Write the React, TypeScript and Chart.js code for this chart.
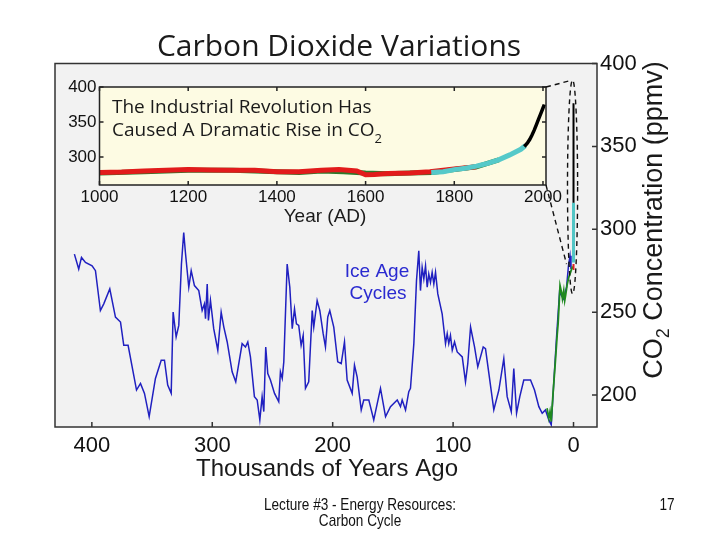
import React, { useEffect, useRef } from "react";
import { Chart, registerables } from "chart.js";

Chart.register(...registerables);

const W = 720;
const H = 540;
const ARIAL = "'Liberation Sans', Arial, Helvetica, sans-serif";
const SANS = "'Open Sans', 'Noto Sans', sans-serif";

// ---------- main chart: thousands of years ago vs CO2 (ppmv) ----------
const vostokAge = [
  414.5, 410.9, 408.6, 405.3, 399.8, 397.0, 392.9, 390.1, 385.1, 380.4, 376.2, 373.5, 369.9,
  362.9, 359.6, 356.3, 352.4, 347.2, 342.4, 339.7, 337.0, 334.1, 332.5, 330.0, 327.8, 325.6,
  323.7, 322.3, 319.5, 317.5, 314.8, 311.2, 308.4, 306.5, 305.6, 304.2, 303.2, 301.5, 298.8,
  295.4, 292.6, 290.4, 287.6, 283.5, 280.5, 275.2, 272.4, 270.5, 268.3, 265.0, 262.7, 260.5,
  258.6, 257.2, 255.6, 253.9, 251.7, 248.3, 244.8, 243.4, 241.9, 240.6, 237.8, 235.6, 233.6,
  231.7, 230.1, 228.2, 226.2, 224.5, 222.6, 219.9, 217.0, 215.7, 212.9, 210.7, 207.9, 206.0,
  204.1, 202.4, 199.1, 195.8, 192.9, 190.2, 188.0, 183.8, 181.9, 179.7, 176.3, 174.2, 170.0,
  165.9, 160.3, 156.1, 152.0, 146.4, 143.7, 142.3, 139.5, 136.8, 135.4, 132.6, 130.4, 128.5,
  127.1, 125.7, 124.3, 122.9, 121.5, 120.2, 118.8, 117.4, 116.0, 114.6, 112.7, 109.1, 106.3,
  104.9, 103.6, 102.2, 100.7, 98.8, 96.6, 92.4, 89.7, 87.8, 85.5, 82.2, 79.5, 75.0, 73.1, 70.3,
  66.2, 62.0, 57.9, 55.1, 51.7, 49.6, 47.3, 44.6, 41.3, 35.7, 32.4, 28.8, 26.0, 23.3, 20.5,
  18.5, 16.6, 14.1, 11.6, 8.3, 5.8, 4.2, 2.9, 2.1,
];
const vostokCO2 = [
  285, 276, 283, 280, 278, 275, 251, 255, 264, 247, 244, 230, 230,
  203, 207, 201, 187, 210, 221, 221, 206, 201, 250, 235, 242, 279,
  298, 286, 265, 275, 266, 263, 251, 255, 246, 267, 245, 257, 240,
  227, 250, 241, 232, 214, 208, 231, 229, 232, 223, 199, 197, 185,
  199, 190, 229, 213, 209, 201, 196, 214, 210, 220, 279, 265, 240,
  252, 243, 242, 230, 236, 204, 208, 251, 241, 257, 251, 237, 229,
  247, 251, 241, 220, 219, 232, 209, 201, 218, 211, 191, 197, 197,
  185, 204, 187, 193, 197, 193, 197, 191, 202, 204, 231, 269, 287,
  263, 277, 270, 278, 265, 273, 268, 274, 267, 274, 261, 249, 231,
  237, 231, 236, 227, 232, 226, 223, 208, 219, 241, 229, 217, 229, 228, 213,
  191, 203, 222, 199, 190, 216, 189, 199, 209, 209, 203, 193, 189, 191, 185,
  182, 205, 235, 262, 258, 265, 278, 284, 276,
];
const domeAge = [22.0, 20.5, 19.5, 18.5, 17.0, 15.0, 13.5, 12.8, 11.2, 10.0, 9.2, 8.1, 7.3, 6.6, 5.2, 3.9, 2.5, 1.1, 0.2];
const domeCO2 = [192, 186, 190, 184, 201, 221, 237, 243, 266, 262, 258, 263, 257, 260, 267, 271, 274, 277, 276];
const lawAge = [0.4, 0.0];
const lawCO2 = [276, 279];
const cyanAge = [0.0, 0.0];
const cyanCO2 = [280, 316];
const maunaAge = [0.0, 0.0];
const maunaCO2 = [316, 376];

const mainXTicks = [400, 300, 200, 100, 0];
const mainYTicks = [200, 250, 300, 350, 400];

// ---------- inset: year AD vs CO2 ----------
const redYears = [1000, 1050, 1100, 1150, 1200, 1250, 1300, 1350, 1400, 1450, 1500, 1540, 1580, 1600, 1620, 1650, 1700, 1745, 1800, 1850];
const redCO2 = [278, 278.5, 280, 281, 282, 281.5, 281, 281, 279, 279, 281, 282, 280, 274.5, 275, 276.5, 277, 279, 283, 286];
const greenYears = [1000, 1100, 1200, 1300, 1400, 1450, 1500, 1550, 1600, 1650, 1700, 1750, 1800, 1850, 1900];
const greenCO2 = [277, 279, 281, 281, 279, 278, 280, 279, 277, 276, 277, 278, 282, 286, 296];
const cyanYears = [1748, 1775, 1800, 1825, 1850, 1875, 1900, 1925, 1950, 1960];
const cyanInsetCO2 = [278, 279, 282, 284, 287, 291, 296, 303, 311, 316];
const blackYears = [1958, 1965, 1970, 1975, 1980, 1985, 1990, 1995, 2000, 2003];
const blackCO2 = [315, 320, 325, 331, 338, 346, 354, 362, 370, 375];

const insetXTicks = [1000, 1200, 1400, 1600, 1800, 2000];
const insetYTicks = [300, 350, 400];

const xy = (xs: number[], ys: number[]) => xs.map((x, i) => ({ x, y: ys[i] }));

const line = (data: any, color: string, width: number) => ({
  data,
  borderColor: color,
  borderWidth: width,
  pointRadius: 0,
  tension: 0,
  fill: false,
});

function drawSub(ctx: CanvasRenderingContext2D, main: string, sub: string, x: number, y: number, big: string, small: string, drop: number) {
  ctx.font = big;
  ctx.fillText(main, x, y);
  const w = ctx.measureText(main).width;
  ctx.font = small;
  ctx.fillText(sub, x + w, y + drop);
}

function narrowText(ctx: CanvasRenderingContext2D, text: string, x: number, y: number) {
  ctx.save();
  ctx.translate(x, y);
  ctx.scale(0.8, 1);
  ctx.fillText(text, 0, 0);
  ctx.restore();
}

const mainDeco = {
  id: "mainDeco",
  beforeDraw(chart: any) {
    const { ctx, chartArea: a } = chart;
    ctx.save();
    ctx.fillStyle = "#ffffff";
    ctx.fillRect(0, 0, W, H);
    ctx.fillStyle = "#f2f2f2";
    ctx.fillRect(a.left, a.top, a.right - a.left, a.bottom - a.top);
    ctx.restore();
  },
  afterDraw(chart: any) {
    const { ctx, chartArea: a, scales } = chart;
    ctx.save();
    // frame
    ctx.strokeStyle = "#333";
    ctx.lineWidth = 1.5;
    ctx.strokeRect(a.left, a.top, a.right - a.left, a.bottom - a.top);
    // inside ticks
    ctx.beginPath();
    mainXTicks.forEach((v) => {
      const px = scales.x.getPixelForValue(v);
      ctx.moveTo(px, a.bottom);
      ctx.lineTo(px, a.bottom - 5);
    });
    mainYTicks.forEach((v) => {
      const py = scales.y.getPixelForValue(v);
      ctx.moveTo(a.right, py);
      ctx.lineTo(a.right - 5, py);
    });
    ctx.stroke();

    ctx.fillStyle = "#1a1a1a";
    ctx.textBaseline = "alphabetic";
    ctx.textAlign = "center";
    ctx.font = `30px ${SANS}`;
    ctx.fillText("Carbon Dioxide Variations", 339, 56);
    ctx.font = `24px ${ARIAL}`;
    ctx.fillText("Thousands of Years Ago", 327, 476);

    // rotated y title with subscript
    ctx.save();
    ctx.translate(662, 220);
    ctx.rotate(-Math.PI / 2);
    const big = `27px ${ARIAL}`;
    const small = `18px ${ARIAL}`;
    ctx.font = big;
    const wa = ctx.measureText("CO").width;
    const wb = ctx.measureText(" Concentration (ppmv)").width;
    ctx.font = small;
    const ws = ctx.measureText("2").width;
    const x0 = -(wa + ws + wb) / 2;
    ctx.textAlign = "left";
    drawSub(ctx, "CO", "2", x0, 0, big, small, 7);
    ctx.font = big;
    ctx.fillText(" Concentration (ppmv)", x0 + wa + ws, 0);
    ctx.restore();

    // Ice Age Cycles
    ctx.fillStyle = "#2a2ad0";
    ctx.font = `19px ${ARIAL}`;
    ctx.textAlign = "center";
    ctx.fillText("Ice Age", 377, 277);
    ctx.fillText("Cycles", 378, 299);

    // footer (condensed)
    ctx.fillStyle = "#111";
    ctx.font = `17px ${ARIAL}`;
    narrowText(ctx, "Lecture #3 - Energy Resources:", 360, 510);
    narrowText(ctx, "Carbon Cycle", 360, 526);
    narrowText(ctx, "17", 667, 510);
    ctx.restore();
  },
};

function insetDeco(main: any) {
  return {
    id: "insetDeco",
    beforeDraw(chart: any) {
      const { ctx, chartArea: a } = chart;
      ctx.save();
      ctx.fillStyle = "#fdfbe3";
      ctx.fillRect(a.left, a.top, a.right - a.left, a.bottom - a.top);
      ctx.restore();
    },
    afterDraw(chart: any) {
      const { ctx, chartArea: a, scales } = chart;
      ctx.save();
      ctx.strokeStyle = "#222";
      ctx.lineWidth = 1.5;
      ctx.strokeRect(a.left, a.top, a.right - a.left, a.bottom - a.top);
      ctx.beginPath();
      insetXTicks.forEach((v) => {
        const px = scales.x.getPixelForValue(v);
        ctx.moveTo(px, a.bottom);
        ctx.lineTo(px, a.bottom - 4);
        ctx.moveTo(px, a.top);
        ctx.lineTo(px, a.top + 4);
      });
      insetYTicks.forEach((v) => {
        const py = scales.y.getPixelForValue(v);
        ctx.moveTo(a.left, py);
        ctx.lineTo(a.left + 4, py);
        ctx.moveTo(a.right, py);
        ctx.lineTo(a.right - 4, py);
      });
      ctx.stroke();

      ctx.fillStyle = "#1a1a1a";
      ctx.textBaseline = "alphabetic";
      ctx.textAlign = "center";
      ctx.font = `19px ${ARIAL}`;
      ctx.fillText("Year (AD)", 325, 222);
      ctx.textAlign = "left";
      ctx.font = `19px ${SANS}`;
      ctx.fillText("The Industrial Revolution Has", 112, 113);
      drawSub(ctx, "Caused A Dramatic Rise in CO", "2", 112, 136, `19px ${SANS}`, `13px ${SANS}`, 7);

      // dashed zoom outline linking the inset to the modern spike
      const xs = main.scales.x;
      const ys = main.scales.y;
      const cx = xs.getPixelForValue(0.8);
      const rx = Math.abs(xs.getPixelForValue(5.0) - cx);
      const top = ys.getPixelForValue(390);
      const bot = ys.getPixelForValue(261);
      const cy = (top + bot) / 2;
      const ry = (bot - top) / 2;
      ctx.strokeStyle = "#111";
      ctx.lineWidth = 1.4;
      ctx.setLineDash([5, 4]);
      ctx.beginPath();
      ctx.ellipse(cx, cy, rx, ry, 0, 0, Math.PI * 2);
      ctx.stroke();
      ctx.beginPath();
      ctx.moveTo(a.right, a.top);
      ctx.lineTo(cx - 2, top + 0.5);
      ctx.moveTo(a.right, a.bottom);
      ctx.lineTo(xs.getPixelForValue(5.8), ys.getPixelForValue(279));
      ctx.stroke();
      ctx.restore();
    },
  };
}

export default function App() {
  const mainRef = useRef<HTMLCanvasElement>(null);
  const insetRef = useRef<HTMLCanvasElement>(null);

  useEffect(() => {
    const main = new Chart(mainRef.current as HTMLCanvasElement, {
      type: "line",
      data: {
        datasets: [
          line(xy(maunaAge, maunaCO2), "#000000", 2),
          line(xy(cyanAge, cyanCO2), "#52c6c6", 3),
          line(xy(lawAge, lawCO2), "#e02020", 2),
          line(xy(domeAge, domeCO2), "#1f8a1f", 1.8),
          line(xy(vostokAge, vostokCO2), "#2020c0", 1.5),
        ],
      } as any,
      options: {
        responsive: false,
        animation: false,
        layout: { padding: { left: 55, top: 63.5, right: 0, bottom: 0 } },
        plugins: { legend: { display: false }, tooltip: { enabled: false }, title: { display: false } },
        scales: {
          x: {
            type: "linear",
            reverse: true,
            min: -19.5,
            max: 430.6,
            grid: { display: false, drawTicks: false },
            border: { display: false },
            ticks: {
              padding: 6,
              color: "#111",
              font: { family: ARIAL, size: 22 },
              maxRotation: 0,
              autoSkip: false,
              callback: (v: any) => String(v),
            },
            afterBuildTicks: (s: any) => {
              s.ticks = mainXTicks.map((v) => ({ value: v }));
            },
            afterFit: (s: any) => {
              s.height = H - 427;
            },
          },
          y: {
            type: "linear",
            position: "right",
            min: 180.7,
            max: 400,
            grid: { display: false, drawTicks: false },
            border: { display: false },
            ticks: {
              padding: 3,
              color: "#111",
              font: { family: ARIAL, size: 22 },
              autoSkip: false,
              callback: (v: any) => String(v),
            },
            afterBuildTicks: (s: any) => {
              s.ticks = mainYTicks.map((v) => ({ value: v }));
            },
            afterFit: (s: any) => {
              s.width = W - 597;
            },
          },
        },
      } as any,
      plugins: [mainDeco],
    });

    const inset = new Chart(insetRef.current as HTMLCanvasElement, {
      type: "line",
      data: {
        datasets: [
          line(xy(blackYears, blackCO2), "#000000", 3.5),
          line(xy(cyanYears, cyanInsetCO2), "#55c9c9", 5),
          line(xy(redYears, redCO2), "#e21b1b", 5),
          line(xy(greenYears, greenCO2), "#2b7a2b", 5),
        ],
      } as any,
      options: {
        responsive: false,
        animation: false,
        layout: { padding: { left: 0, top: 87, right: W - 546, bottom: 0 } },
        plugins: { legend: { display: false }, tooltip: { enabled: false }, title: { display: false } },
        scales: {
          x: {
            type: "linear",
            min: 1000,
            max: 2006.8,
            grid: { display: false, drawTicks: false },
            border: { display: false },
            ticks: {
              padding: 2,
              color: "#111",
              font: { family: ARIAL, size: 17 },
              maxRotation: 0,
              autoSkip: false,
              callback: (v: any) => String(v),
            },
            afterBuildTicks: (s: any) => {
              s.ticks = insetXTicks.map((v) => ({ value: v }));
            },
            afterFit: (s: any) => {
              s.height = H - 185;
            },
          },
          y: {
            type: "linear",
            min: 260,
            max: 400,
            grid: { display: false, drawTicks: false },
            border: { display: false },
            ticks: {
              padding: 3,
              color: "#111",
              font: { family: ARIAL, size: 17 },
              autoSkip: false,
              callback: (v: any) => String(v),
            },
            afterBuildTicks: (s: any) => {
              s.ticks = insetYTicks.map((v) => ({ value: v }));
            },
            afterFit: (s: any) => {
              s.width = 99.5;
            },
          },
        },
      } as any,
      plugins: [insetDeco(main)],
    });

    return () => {
      inset.destroy();
      main.destroy();
    };
  }, []);

  const cs: React.CSSProperties = { position: "absolute", left: 0, top: 0, width: W, height: H };
  return (
    <div style={{ position: "absolute", left: 0, top: 0, width: W, height: H, background: "#fff", overflow: "hidden" }}>
      <canvas ref={mainRef} width={W} height={H} style={cs} />
      <canvas ref={insetRef} width={W} height={H} style={cs} />
    </div>
  );
}
